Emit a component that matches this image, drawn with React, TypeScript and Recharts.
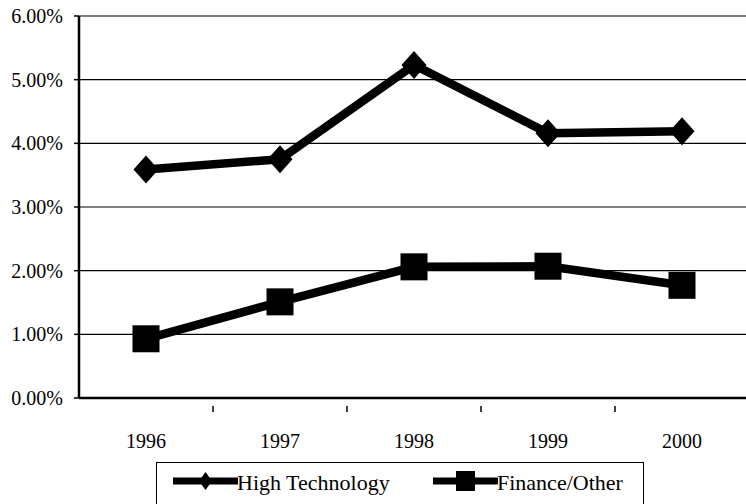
import { CartesianGrid, Line, LineChart, XAxis, YAxis } from "recharts"

const years = ["1996", "1997", "1998", "1999", "2000"]
const highTech = [3.59, 3.75, 5.23, 4.16, 4.19]
const financeOther = [0.93, 1.51, 2.06, 2.07, 1.77]
const yTicks = [0, 1, 2, 3, 4, 5, 6]

const data = years.map((year, i) => ({
    year,
    highTech: highTech[i],
    financeOther: financeOther[i],
}))

const W = 746
const H = 504
const LEFT = 79
const TOP = 16
const BOTTOM = 106
const PLOT_W = W + 3 - LEFT
const HALF = PLOT_W / years.length / 2
const FONT = "Liberation Serif, DejaVu Serif, serif"

const Diamond = (props: any) => {
    const { cx, cy } = props
    if (cx == null || cy == null) return null
    return <path d={`M${cx},${cy - 14}L${cx + 12.5},${cy}L${cx},${cy + 14}L${cx - 12.5},${cy}Z`} fill="#000" />
}

const Square = (props: any) => {
    const { cx, cy } = props
    if (cx == null || cy == null) return null
    return <rect x={cx - 13.5} y={cy - 13.5} width={27} height={27} fill="#000" />
}

const XTick = (props: any) => {
    const { x, y, payload } = props
    return (
        <g>
            <line x1={x + HALF} y1={y} x2={x + HALF} y2={y + 6} stroke="#000" strokeWidth={1.5} />
            <text x={x} y={y + 42} textAnchor="middle" fontFamily={FONT} fontSize={20} fill="#000">
                {payload.value}
            </text>
        </g>
    )
}

const LegendBox = () => (
    <div
        style={{
            position: "absolute",
            left: 156,
            top: 462,
            width: 488,
            height: 50,
            border: "1.5px solid #000",
            boxSizing: "border-box",
            fontFamily: FONT,
            fontSize: 22,
            color: "#000",
            lineHeight: "26px",
        }}
    >
        <svg width={488} height={50} style={{ position: "absolute", left: 0, top: 0 }}>
            <line x1={16} y1={18} x2={81} y2={18} stroke="#000" strokeWidth={7} />
            <path d="M48.5,9L55,18L48.5,27L42,18Z" fill="#000" />
            <line x1={276} y1={18} x2={341} y2={18} stroke="#000" strokeWidth={7} />
            <rect x={299} y={8} width={19} height={20} fill="#000" />
        </svg>
        <span style={{ position: "absolute", left: 80, top: 7 }}>High Technology</span>
        <span style={{ position: "absolute", left: 340, top: 7 }}>Finance/Other</span>
    </div>
)

export default function App() {
    return (
        <div style={{ position: "absolute", left: 0, top: 0, width: W, height: H, background: "#fff", overflow: "hidden" }}>
            <LineChart
                width={W + 3}
                height={H}
                data={data}
                margin={{ top: TOP, right: 0, bottom: 0, left: 0 }}
            >
                <CartesianGrid vertical={false} stroke="#000" strokeWidth={1.2} />
                <XAxis
                    dataKey="year"
                    height={BOTTOM}
                    padding={{ left: HALF, right: HALF }}
                    axisLine={{ stroke: "#000", strokeWidth: 2.5 }}
                    tickLine={false}
                    tick={<XTick />}
                    interval={0}
                />
                <YAxis
                    width={LEFT}
                    domain={[0, 6]}
                    ticks={yTicks}
                    interval={0}
                    tickFormatter={(v) => `${Number(v).toFixed(2)}%`}
                    axisLine={{ stroke: "#000", strokeWidth: 2.5 }}
                    tickLine={{ stroke: "#000", strokeWidth: 1.5 }}
                    tickSize={5}
                    tickMargin={11}
                    tick={{ fill: "#000", fontFamily: FONT, fontSize: 20 }}
                />
                <Line
                    dataKey="highTech"
                    stroke="#000"
                    strokeWidth={8.5}
                    dot={<Diamond />}
                    activeDot={false}
                    isAnimationActive={false}
                />
                <Line
                    dataKey="financeOther"
                    stroke="#000"
                    strokeWidth={8.5}
                    dot={<Square />}
                    activeDot={false}
                    isAnimationActive={false}
                />
            </LineChart>
            <LegendBox />
        </div>
    )
}
